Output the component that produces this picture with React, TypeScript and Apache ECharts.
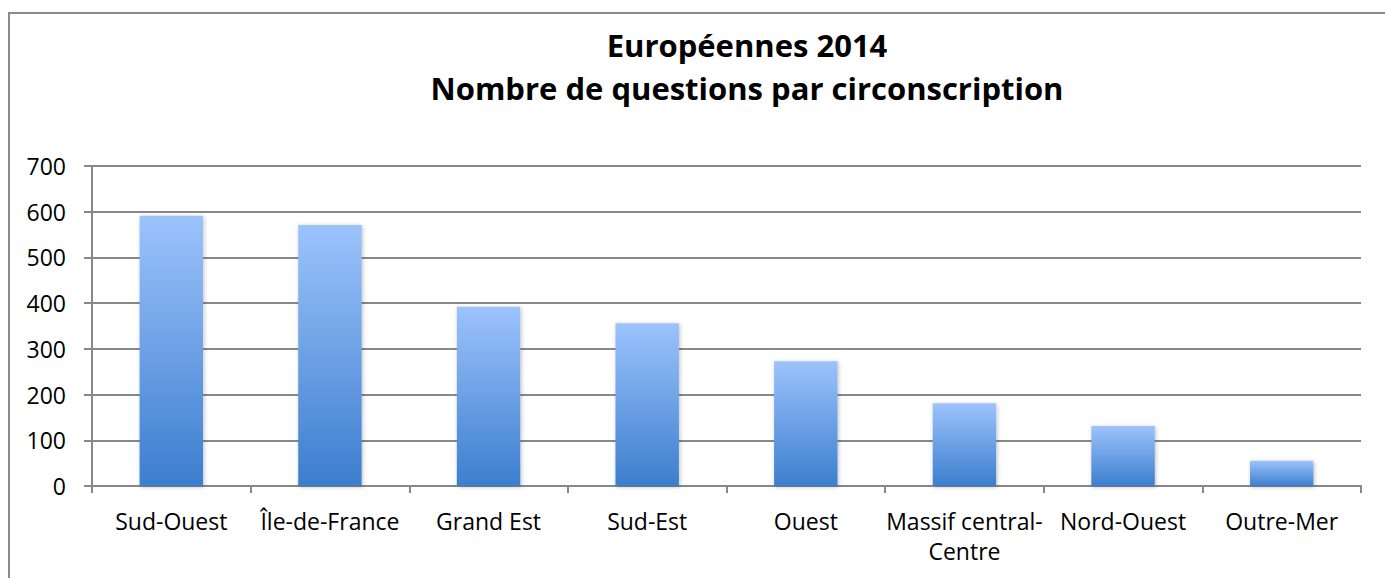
import React, { useEffect, useRef } from "react";
import * as echarts from "echarts";

const categories = [
  "Sud-Ouest",
  "Île-de-France",
  "Grand Est",
  "Sud-Est",
  "Ouest",
  "Massif central-\nCentre",
  "Nord-Ouest",
  "Outre-Mer",
];
const questions = [591, 571, 392, 356, 273, 181, 131, 55];
const titleLines = ["Européennes 2014", "Nombre de questions par circonscription"];

export default function App() {
  const ref = useRef<HTMLDivElement>(null);
  useEffect(() => {
    const chart = echarts.init(ref.current!, null, { renderer: "svg" });
    const font = "'Open Sans', sans-serif";
    chart.setOption({
      animation: false,
      backgroundColor: "#ffffff",
      title: {
        text: titleLines.join("\n"),
        left: 742,
        top: 18,
        textAlign: "center",
        textStyle: {
          fontFamily: font,
          fontWeight: "bold",
          fontSize: 31,
          lineHeight: 43,
          color: "#000",
        },
      },
      graphic: [
        {
          type: "rect",
          shape: { x: 9, y: 13, width: 1500, height: 700 },
          style: { fill: "none", stroke: "#8a8a8a", lineWidth: 2 },
          silent: true,
        },
      ],
      grid: { left: 92, right: 24, top: 166, bottom: 92, containLabel: false },
      xAxis: {
        type: "category",
        data: categories,
        axisLine: { show: true, lineStyle: { color: "#888888", width: 2 } },
        axisTick: { show: true, length: 7, lineStyle: { color: "#888888", width: 2 } },
        axisLabel: {
          interval: 0,
          margin: 20,
          fontFamily: font,
          fontSize: 23,
          lineHeight: 30,
          color: "#000",
        },
        splitLine: { show: false },
      },
      yAxis: {
        type: "value",
        min: 0,
        max: 700,
        interval: 100,
        axisLine: { show: true, lineStyle: { color: "#888888", width: 2 } },
        axisTick: { show: true, length: 8, lineStyle: { color: "#888888", width: 2 } },
        axisLabel: {
          margin: 26,
          fontFamily: font,
          fontSize: 23,
          color: "#000",
        },
        splitLine: { show: true, lineStyle: { color: "#888888", width: 2 } },
      },
      series: [
        {
          type: "bar",
          data: questions,
          barWidth: "40%",
          itemStyle: {
            color: new echarts.graphic.LinearGradient(0, 0, 0, 1, [
              { offset: 0, color: "#9CC3FC" },
              { offset: 1, color: "#3C7ECE" },
            ]),
            shadowBlur: 4,
            shadowColor: "rgba(0,0,0,0.25)",
            shadowOffsetX: 1,
            shadowOffsetY: 1,
          },
        },
      ],
    });
    return () => chart.dispose();
  }, []);
  return (
    <div
      ref={ref}
      style={{ position: "fixed", left: 0, top: 0, width: 1385, height: 578 }}
    />
  );
}
